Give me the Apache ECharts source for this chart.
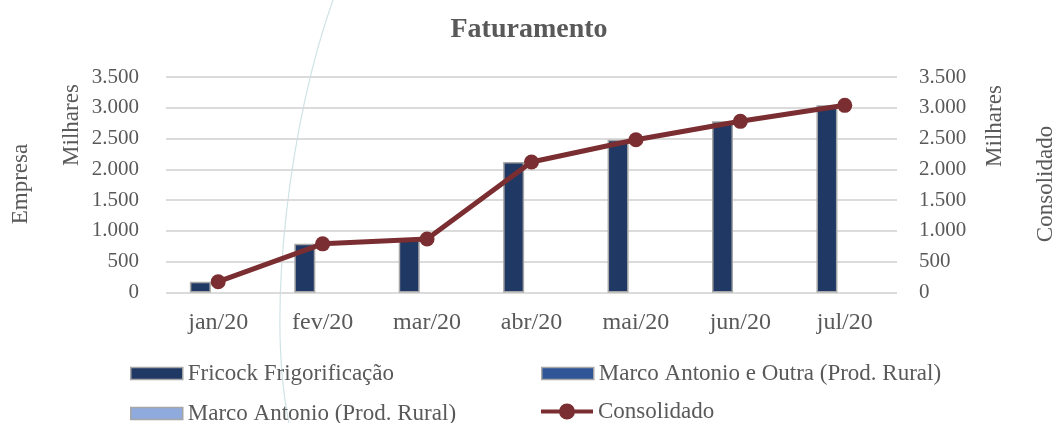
<!DOCTYPE html>
<html>
<head>
<meta charset="utf-8">
<script src="https://cdn.jsdelivr.net/npm/echarts@6/dist/echarts.min.js"></script>
<style>
html,body{margin:0;padding:0;background:#fff;}
#chart{width:1058px;height:423px;}
</style>
</head>
<body>
<div id="chart"></div>
<script>
var categories = ['jan/20','fev/20','mar/20','abr/20','mai/20','jun/20','jul/20'];
var fricock = [175, 790, 870, 2120, 2480, 2780, 3040];
var marcoOutra = [0, 0, 0, 0, 0, 0, 0];
var marcoRural = [0, 0, 0, 0, 0, 0, 0];
var consolidado = [175, 790, 870, 2120, 2480, 2780, 3040];
var seriesNames = ['Fricock Frigorificação','Marco Antonio e Outra (Prod. Rural)','Marco Antonio (Prod. Rural)','Consolidado'];
var yMin = 0, yMax = 3500, yStep = 500;

var FONT = '"Liberation Serif", "Times New Roman", serif';
var TXT = '#595959';
var LINE = '#7b2e31';
var BORDER = '#a6a6a6';
var fmt = function(v){ return String(v).replace(/\B(?=(\d{3})+(?!\d))/g, '.'); };

var chart = echarts.init(document.getElementById('chart'));
var barLegend = function(name, color, left, top){
  return {
    data: [{name: name, icon: 'rect', itemStyle: {color: color, borderColor: BORDER, borderWidth: 1.5}}],
    left: left, top: top, itemWidth: 52, itemHeight: 12, padding: 0,
    textStyle: {fontFamily: FONT, fontSize: 23, color: TXT},
    selectedMode: false
  };
};
var yAxisCommon = {
  type: 'value', min: yMin, max: yMax, interval: yStep,
  axisLine: {show: false}, axisTick: {show: false},
  splitLine: {lineStyle: {color: '#d9d9d9', width: 1.5}},
  axisLabel: {fontFamily: FONT, fontSize: 21, color: TXT, formatter: fmt}
};
var nameText = function(text, x, y){
  return {type: 'text', x: x, y: y, rotation: Math.PI/2, silent: true,
    style: {text: text, font: '23px ' + FONT, fill: TXT, textAlign: 'center', textVerticalAlign: 'middle'}};
};
chart.setOption({
  animation: false,
  backgroundColor: '#fff',
  title: {
    text: 'Faturamento', left: 'center', top: 11,
    textStyle: {fontFamily: FONT, fontSize: 28, fontWeight: 'bold', color: TXT}
  },
  grid: {left: 166, right: 161, top: 77, bottom: 130.5, containLabel: false},
  legend: [
    barLegend(seriesNames[0], '#203864', 130, 362),
    barLegend(seriesNames[1], '#2f5597', 541, 362),
    barLegend(seriesNames[2], '#8faadc', 130, 402),
    {
      data: [{name: seriesNames[3],
              icon: 'path://M0,6 H52 V10 H0 Z M18,8 A8,8 0 1 1 34,8 A8,8 0 1 1 18,8 Z',
              itemStyle: {color: LINE, borderWidth: 0}}],
      left: 541, top: 400, itemWidth: 52, itemHeight: 16, padding: 0,
      textStyle: {fontFamily: FONT, fontSize: 23, color: TXT},
      selectedMode: false
    }
  ],
  xAxis: {
    type: 'category', data: categories,
    axisLine: {show: false}, axisTick: {show: false},
    axisLabel: {fontFamily: FONT, fontSize: 24, color: TXT, margin: 18}
  },
  yAxis: [
    Object.assign({}, yAxisCommon, {position: 'left', axisLabel: Object.assign({}, yAxisCommon.axisLabel, {margin: 27})}),
    Object.assign({}, yAxisCommon, {position: 'right', axisLabel: Object.assign({}, yAxisCommon.axisLabel, {margin: 22})})
  ],
  graphic: [
    {type: 'bezierCurve', z: -10, silent: true,
     shape: {x1: 333, y1: 0, cpx1: 290, cpy1: 120, cpx2: 266, cpy2: 310, x2: 289, y2: 423},
     style: {stroke: '#cfe3e6', lineWidth: 1.2, fill: null}},
    nameText('Empresa', 21, 184),
    nameText('Milhares', 72, 125),
    nameText('Milhares', 995, 126),
    nameText('Consolidado', 1046, 184)
  ],
  series: [
    {name: seriesNames[0], type: 'bar', data: fricock, yAxisIndex: 0, barWidth: 21, barGap: '-15%',
     itemStyle: {color: '#203864', borderColor: BORDER, borderWidth: 1.5}},
    {name: seriesNames[1], type: 'bar', data: marcoOutra, yAxisIndex: 0, barWidth: 21, barGap: '-15%',
     itemStyle: {color: '#2f5597', borderWidth: 0}},
    {name: seriesNames[2], type: 'bar', data: marcoRural, yAxisIndex: 0, barWidth: 21, barGap: '-15%',
     itemStyle: {color: '#8faadc', borderWidth: 0}},
    {name: seriesNames[3], type: 'line', data: consolidado, yAxisIndex: 1, z: 5,
     symbol: 'circle', symbolSize: 15,
     lineStyle: {color: LINE, width: 5},
     itemStyle: {color: LINE}}
  ]
});
</script>
</body>
</html>
